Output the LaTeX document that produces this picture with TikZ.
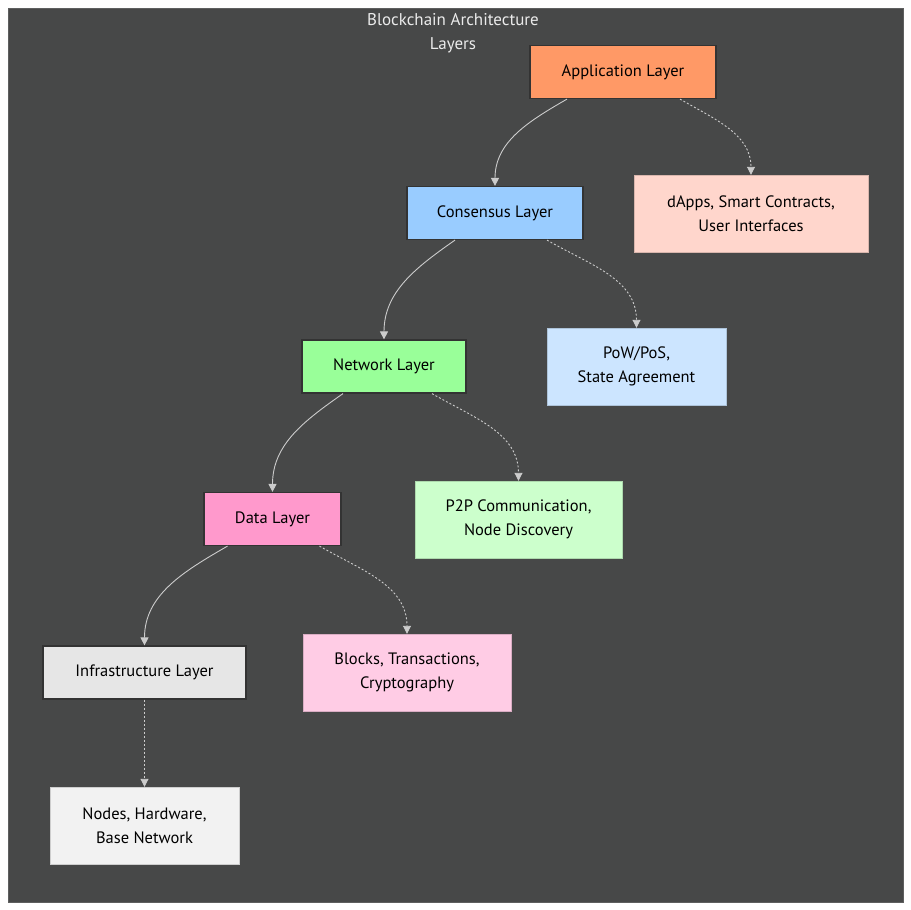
\documentclass[tikz,border=0pt]{standalone}
\usepackage{fontspec}
\setmainfont{PT Sans}
\usepackage{tikz}
\usetikzlibrary{arrows.meta,positioning}
\definecolor{BgDark}{HTML}{474848}
\definecolor{BgRim}{HTML}{5E5F5F}
\definecolor{BoxRim}{HTML}{333333}
\definecolor{EdgeGrey}{HTML}{CCCCCC}
\definecolor{AppOrange}{HTML}{FF9966}
\definecolor{AppPale}{HTML}{FFD6CC}
\definecolor{ConsBlue}{HTML}{99CCFF}
\definecolor{ConsPale}{HTML}{CCE5FF}
\definecolor{NetGreen}{HTML}{99FF99}
\definecolor{NetPale}{HTML}{CCFFCC}
\definecolor{DataPink}{HTML}{FF99CC}
\definecolor{DataPale}{HTML}{FFCCE5}
\definecolor{InfraGrey}{HTML}{E6E6E6}
\definecolor{InfraPale}{HTML}{F2F2F2}

\begin{document}
\begin{tikzpicture}[
    x=1pt, y=-1pt,
    layer/.style={
      draw=BoxRim,
      fill=#1,
      line width=1.2pt,
      minimum height=53pt,
      font=\fontsize{16.5}{18}\selectfont,
      align=center
    },
    detail/.style={
      draw=#1!85!black,
      fill=#1,
      line width=0.4pt,
      minimum height=77pt,
      font=\fontsize{16.5}{24}\selectfont,
      align=center
    },
    title/.style={
      font=\fontsize{17}{24}\selectfont,
      color=white!92!black,
      align=center
    },
    link/.style={
      -{Triangle[length=8pt,width=8pt]},
      draw=EdgeGrey,
      line width=0.9pt
    },
    note/.style={
      link,
      dash pattern=on 2pt off 2pt
    }
  ]

  \useasboundingbox (0,0) rectangle (911,910);
  \fill[white] (0,0) rectangle (911,910);
  \draw[BgRim, fill=BgDark] (8,8) rectangle (903,902);

  \node[title] (head) at (453,33) {Blockchain Architecture\\Layers};

  % layer stack
  \node[layer=AppOrange, minimum width=186pt]  (app)   at (623,72)    {Application Layer};
  \node[layer=ConsBlue, minimum width=176pt]   (cons)  at (495,213)   {Consensus Layer};
  \node[layer=NetGreen, minimum width=164pt]   (net)   at (384,366.5) {Network Layer};
  \node[layer=DataPink, minimum width=137pt]   (data)  at (272.5,519) {Data Layer};
  \node[layer=InfraGrey, minimum width=203pt]  (infra) at (144.5,672.5) {Infrastructure Layer};

  % what each layer holds
  \node[detail=AppPale, minimum width=234pt]   (appd)   at (751,213.5)   {dApps, Smart Contracts,\\User Interfaces};
  \node[detail=ConsPale, minimum width=179pt]  (consd)  at (636.5,366.5) {PoW/PoS,\\State Agreement};
  \node[detail=NetPale, minimum width=207pt]   (netd)   at (518.5,519.5) {P2P Communication,\\Node Discovery};
  \node[detail=DataPale, minimum width=208pt]  (datad)  at (407,672.5)   {Blocks, Transactions,\\Cryptography};
  \node[detail=InfraPale, minimum width=189pt] (infrad) at (144.5,825.5) {Nodes, Hardware,\\Base Network};

  % down the stack
  \draw[link] ([xshift=-56pt]app.south)  to[out=-150,in=90] (cons.north);
  \draw[link] ([xshift=-40pt]cons.south) to[out=-145,in=90] (net.north);
  \draw[link] ([xshift=-41pt]net.south)  to[out=-145,in=90] (data.north);
  \draw[link] ([xshift=-45pt]data.south) to[out=-150,in=90] (infra.north);

  % side notes
  \draw[note] ([xshift=57pt]app.south)  to[out=-30,in=90] (appd.north);
  \draw[note] ([xshift=52pt]cons.south) to[out=-30,in=90] (consd.north);
  \draw[note] ([xshift=48pt]net.south)  to[out=-30,in=90] (netd.north);
  \draw[note] ([xshift=47pt]data.south) to[out=-30,in=90] (datad.north);
  \draw[note] (infra.south) -- (infrad.north);

\end{tikzpicture}
\end{document}
